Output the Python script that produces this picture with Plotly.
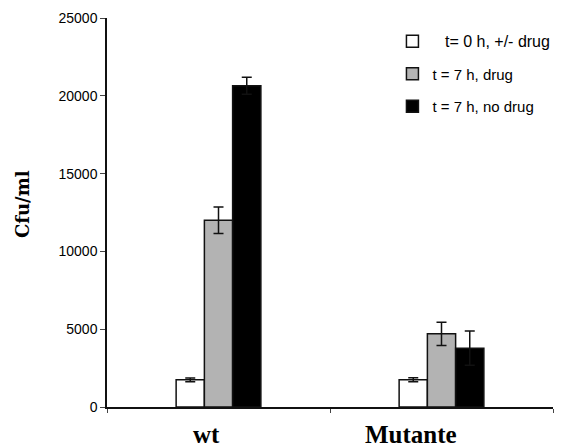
import plotly.graph_objects as go

categories = ["wt", "Mutante"]
series_names = ["\u00a0\u00a0\u00a0<span style=\"font-size:16px\">t= 0 h, +/- drug</span>",
                "t = 7 h, drug", "t = 7 h, no drug"]
t0_values = [1750, 1750]
t0_errors = [120, 130]
drug_values = [12000, 4700]
drug_errors = [850, 750]
nodrug_values = [20650, 3780]
nodrug_errors = [550, 1100]
tick_vals = [0, 5000, 10000, 15000, 20000, 25000]
tick_text = ["0", "5000", "10000", "15000", "20000", "25000"]
y_title = "Cfu/ml"

colors = ["#ffffff", "#b3b3b3", "#000000"]
values = [t0_values, drug_values, nodrug_values]
errors = [t0_errors, drug_errors, nodrug_errors]

fig = go.Figure()
for i, name in enumerate(series_names):
    fig.add_trace(go.Bar(
        x=categories, y=values[i], name=name, legendgroup=f"g{i}",
        marker=dict(color=colors[i], line=dict(color="#111111", width=1.5)),
        error_y=dict(type="data", array=errors[i], color="#111111", thickness=1.5, width=5),
    ))

# category labels drawn as bold serif text slightly left of each group centre
label_shift = [-12, -31]
for cat, dx in zip(categories, label_shift):
    fig.add_annotation(x=cat, xref="x", y=0, yref="paper", xanchor="center", yanchor="middle",
                       yshift=-27, xshift=dx, showarrow=False, text=f"<b>{cat}</b>",
                       font=dict(family="Times New Roman, Liberation Serif", size=25, color="black"))

# y-axis title
fig.add_annotation(x=-0.188, xref="paper", y=0.522, yref="paper", xanchor="center", yanchor="middle",
                   textangle=-90, showarrow=False, text=f"<b>{y_title}</b>",
                   font=dict(family="DejaVu Serif", size=18, color="black"))

fig.update_layout(
    width=562, height=448,
    margin=dict(l=107, r=9, t=18, b=41, autoexpand=False),
    paper_bgcolor="white", plot_bgcolor="white",
    barmode="group", bargap=0.62, bargroupgap=0,
    showlegend=True,
    legend=dict(x=0.64, y=0.982, xanchor="left", yanchor="top",
                font=dict(family="Liberation Sans Narrow, Arial Narrow, Arial, Liberation Sans", size=15, color="black"),
                traceorder="grouped", tracegroupgap=10, bgcolor="rgba(0,0,0,0)",
                itemwidth=30),
    font=dict(family="Arial, Liberation Sans", color="black"),
)
fig.update_yaxes(range=[0, 25000], tickvals=tick_vals, ticktext=tick_text, ticks="outside", ticklen=5,
                 showline=True, linecolor="#111111", linewidth=1.5, showgrid=False, zeroline=False,
                 tickfont=dict(family="Arial, Liberation Sans", size=14, color="black"))
fig.update_xaxes(showline=True, linecolor="#111111", linewidth=1.5, ticks="outside", ticklen=4,
                 tickson="boundaries", showgrid=False, showticklabels=False)

fig.write_html("out.html", config={"displayModeBar": False},
               post_script="document.body.style.margin='0px';document.body.style.overflow='hidden';")
